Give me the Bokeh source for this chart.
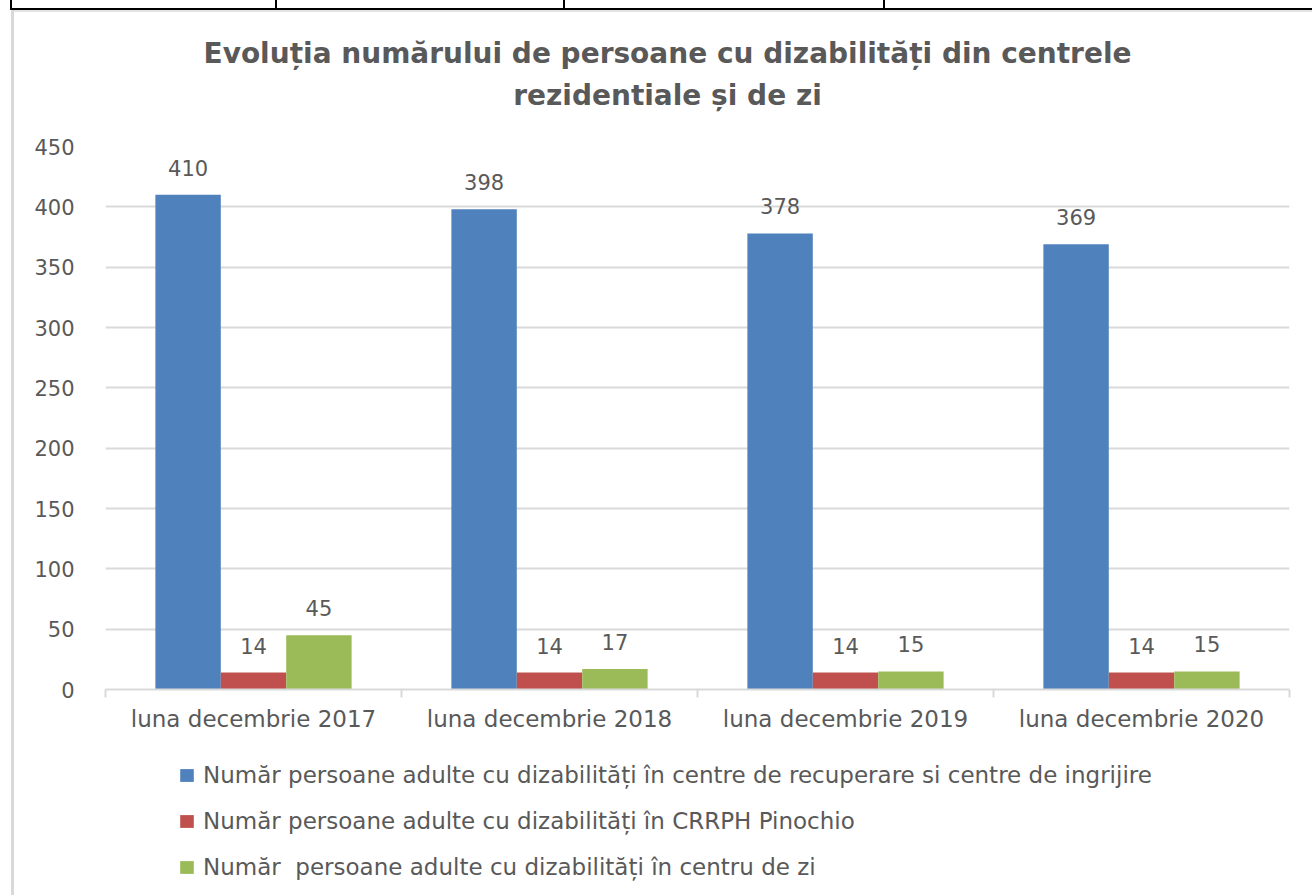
from bokeh.plotting import figure
from bokeh.layouts import column
from bokeh.models import (ColumnDataSource, Range1d, FixedTicker, Legend, LegendItem,
                          LabelSet, Label, Div)
from bokeh.core.properties import value
from bokeh.embed import file_html
from bokeh.resources import INLINE

categories = ["luna decembrie 2017", "luna decembrie 2018", "luna decembrie 2019", "luna decembrie 2020"]
series_names = [
    "Număr persoane adulte cu dizabilități în centre de recuperare si centre de ingrijire",
    "Număr persoane adulte cu dizabilități în CRRPH Pinochio",
    "Număr  persoane adulte cu dizabilități în centru de zi",
]
centre_recuperare = [410, 398, 378, 369]
crrph_pinochio = [14, 14, 14, 14]
centru_zi = [45, 17, 15, 15]
y_ticks = [0, 50, 100, 150, 200, 250, 300, 350, 400, 450]
title_lines = ["Evoluția numărului de persoane cu dizabilități din centrele",
               "rezidentiale și de zi"]

colors = ["#4F81BD", "#C0504D", "#9BBB59"]
series = [centre_recuperare, crrph_pinochio, centru_zi]
offsets = [-0.221, 0.0, 0.221]
bar_w = 0.221

FONT = "DejaVu Sans"
TXT = "#595959"
GRID = "#D9D9D9"
W = 1312
FRAME_L, FRAME_R = 105, 1289
FRAME_STYLE = {"box-shadow": "inset 11px 0 0 0 #FFFFFF, inset 14px 0 0 0 #D9D9D9"}

# ---------------- page table edge above the chart ----------------
TOP = 12
stubs = "".join(
    f'<div style="position:absolute;left:{x}px;top:0;width:2px;height:10px;background:#000"></div>'
    for x in [10, 275, 563, 883])
top_html = ('<div style="position:relative;width:1312px;height:12px;margin:0;padding:0">'
            '<div style="position:absolute;left:10px;top:8px;width:1302px;height:2px;background:#000"></div>'
            '<div style="position:absolute;left:12px;top:10px;width:1300px;height:2px;background:#E3E3E3"></div>'
            '<div style="position:absolute;left:11px;top:10px;width:3px;height:2px;background:#D9D9D9"></div>'
            + stubs + '</div>')
top_div = Div(text=top_html, width=W, height=TOP, margin=0, styles={"padding": "0", "margin": "0"})

# ---------------- title strip ----------------
TH = 126 - TOP
pt = figure(width=W, height=TH, output_backend="svg", toolbar_location=None,
            x_range=Range1d(FRAME_L, FRAME_R), y_range=Range1d(TH, 0),
            x_axis_type=None, y_axis_type=None,
            min_border_left=FRAME_L, min_border_right=W - FRAME_R,
            min_border_top=0, min_border_bottom=0, styles=FRAME_STYLE)
pt.outline_line_color = None
pt.border_fill_color = None
pt.grid.visible = False
for txt, ty in zip(title_lines, [53 - TOP, 95 - TOP]):
    pt.add_layout(Label(x=667, y=ty, text=txt, text_align="center", text_baseline="middle",
                        text_font=FONT, text_font_size="28px", text_font_style="bold",
                        text_color=TXT))

# ---------------- main chart ----------------
p = figure(width=W, height=745 - 126, output_backend="svg", toolbar_location=None,
           x_range=Range1d(0, len(categories)), y_range=Range1d(0, 450),
           min_border_left=FRAME_L, min_border_right=W - FRAME_R,
           min_border_top=20, min_border_bottom=56, styles=FRAME_STYLE)
p.outline_line_color = None
p.background_fill_color = "white"
p.border_fill_color = None

centers = [i + 0.5 for i in range(len(categories))]
sources = []
for vals, off, col in zip(series, offsets, colors):
    src = ColumnDataSource(dict(x=[c + off for c in centers], top=vals,
                                lab=[str(v) for v in vals]))
    sources.append(src)
    p.vbar(x="x", top="top", width=bar_w, bottom=0, source=src,
           fill_color=col, line_color=None)
    p.add_layout(LabelSet(x="x", y="top", text="lab", source=src, text_align="center",
                          text_baseline="middle", y_offset=27, text_font=value(FONT),
                          text_font_size="21px", text_color=TXT))

xa = p.xaxis[0]
xa.ticker = FixedTicker(ticks=centers, minor_ticks=list(range(len(categories) + 1)))
xa.major_label_overrides = {c: n for c, n in zip(centers, categories)}
xa.major_tick_line_color = None
xa.minor_tick_line_color = GRID
xa.minor_tick_line_width = 2
xa.minor_tick_out = 8
xa.minor_tick_in = 0
xa.axis_line_color = GRID
xa.axis_line_width = 2
xa.major_label_text_font = FONT
xa.major_label_text_font_size = "23px"
xa.major_label_text_color = TXT
xa.major_label_standoff = 8

ya = p.yaxis[0]
ya.ticker = FixedTicker(ticks=y_ticks)
ya.axis_line_color = None
ya.major_tick_line_color = None
ya.minor_tick_line_color = None
ya.major_label_text_font = FONT
ya.major_label_text_font_size = "21px"
ya.major_label_text_color = TXT
ya.major_label_standoff = 25

p.xgrid.grid_line_color = None
p.ygrid.grid_line_color = GRID
p.ygrid.grid_line_width = 2

# ---------------- legend strip ----------------
pl = figure(width=W, height=150, output_backend="svg", toolbar_location=None,
            x_range=Range1d(0, len(categories)), y_range=Range1d(0, 450),
            x_axis_type=None, y_axis_type=None,
            min_border_left=FRAME_L, min_border_right=W - FRAME_R,
            min_border_top=0, min_border_bottom=0, styles=FRAME_STYLE)
pl.outline_line_color = None
pl.border_fill_color = None
pl.grid.visible = False
items = []
for src, col, name in zip(sources, colors, series_names):
    r = pl.vbar(x="x", top="top", width=bar_w, source=src, fill_color=col, line_color=None,
                visible=False)
    items.append(LegendItem(label=name, renderers=[r]))
legend = Legend(items=items, location=(73, 15), orientation="vertical",
                label_text_font=FONT, label_text_font_size="23px", label_text_color=TXT,
                glyph_width=17, glyph_height=16, label_height=20, spacing=20,
                label_standoff=8, padding=0, margin=0, inactive_fill_alpha=0,
                border_line_color=None, background_fill_alpha=0)
pl.add_layout(legend, "center")

layout = column(top_div, pt, p, pl, spacing=0)
open("out.html", "w").write(file_html(layout, INLINE))
